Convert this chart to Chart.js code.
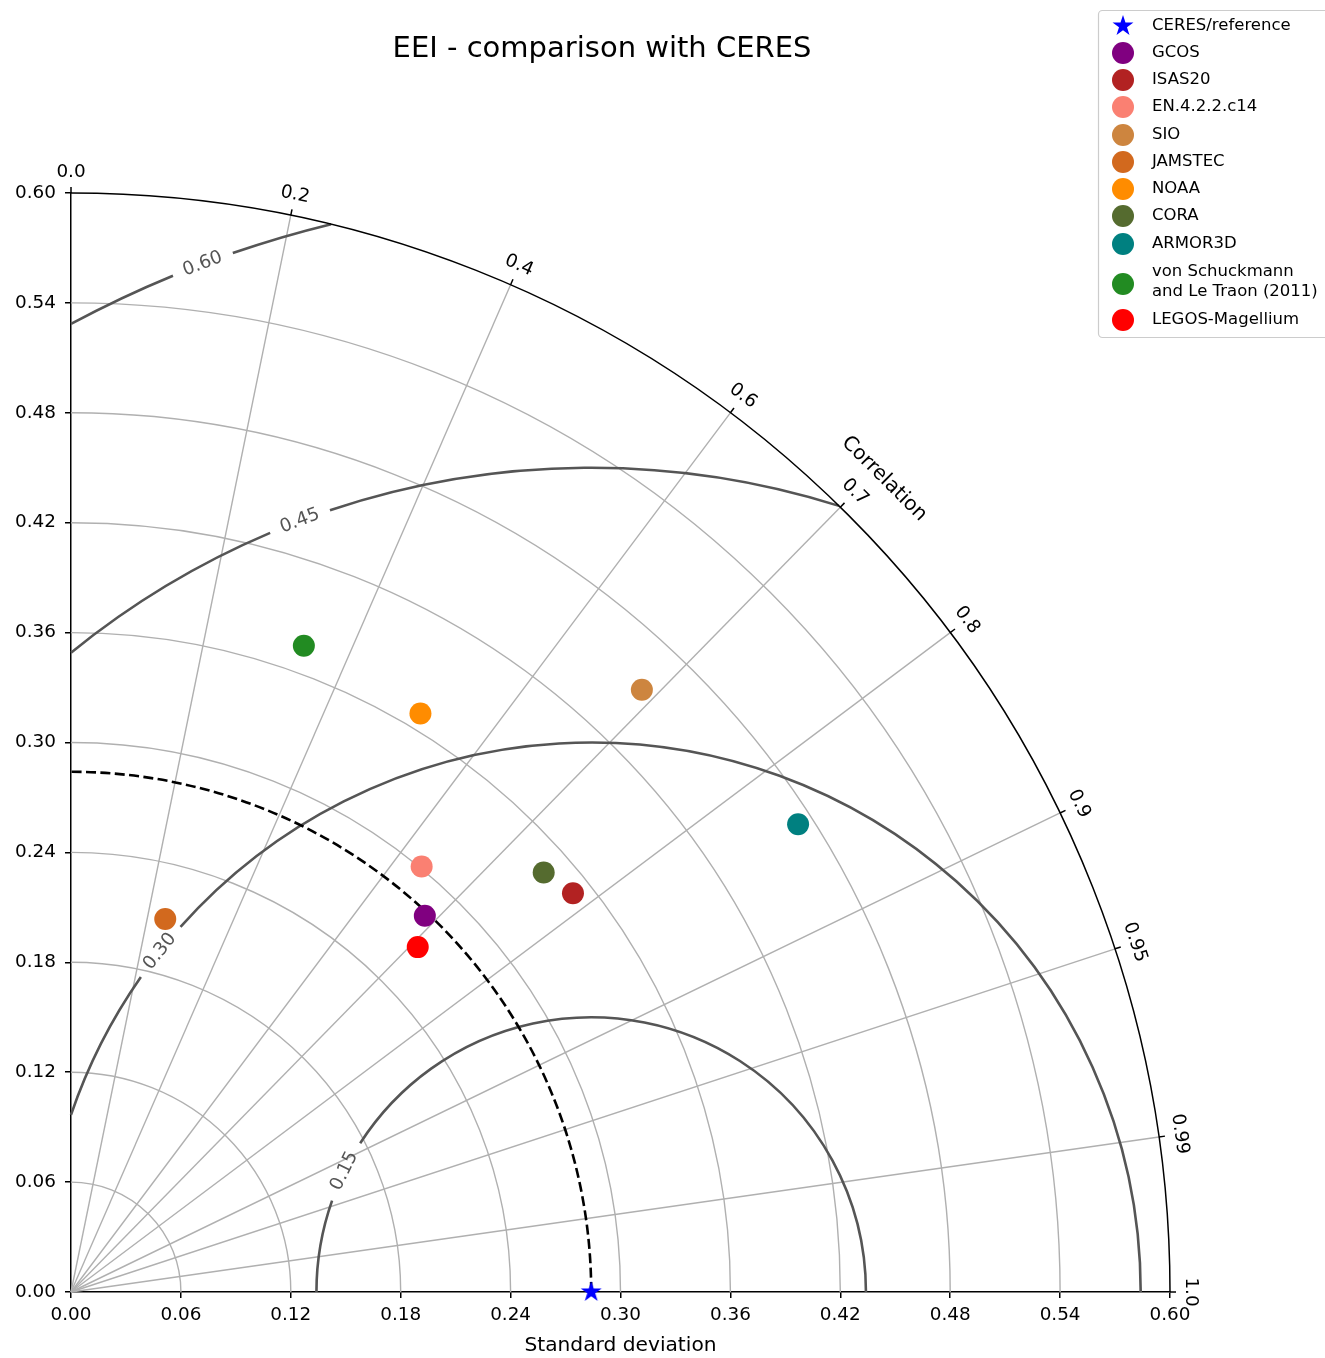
<!DOCTYPE html>
<html>
<head>
<meta charset="utf-8">
<title>EEI - comparison with CERES</title>
<script src="https://cdn.jsdelivr.net/npm/chart.js@4.4.0/dist/chart.umd.min.js"></script>
<style>
	html, body { margin: 0; padding: 0; background: #fff; }
	canvas { display: block; }
</style>
</head>
<body>
<canvas id="taylor" width="1325" height="1358"></canvas>
<script>
// Référence (CERES) : écart-type
const refName = 'CERES/reference';
const refStd = 0.284;

// Jeux de données comparés : écart-type et corrélation avec CERES
const modelNames = ['GCOS', 'ISAS20', 'EN.4.2.2.c14', 'SIO', 'JAMSTEC', 'NOAA', 'CORA', 'ARMOR3D',
	'von Schuckmann\nand Le Traon (2011)', 'LEGOS-Magellium'];
const modelStd = [0.282, 0.350, 0.301, 0.453, 0.210, 0.369, 0.345, 0.472, 0.375, 0.267];
const modelCorr = [0.685, 0.783, 0.636, 0.688, 0.245, 0.517, 0.748, 0.841, 0.339, 0.709];
const modelColors = ['purple', 'firebrick', 'salmon', 'peru', 'chocolate', 'darkorange',
	'darkolivegreen', 'teal', 'forestgreen', 'red'];

// Axes du diagramme
const stdMax = 0.6;
const stdTicks = [0, 0.06, 0.12, 0.18, 0.24, 0.30, 0.36, 0.42, 0.48, 0.54, 0.60];
const corrTicks = [0, 0.2, 0.4, 0.6, 0.7, 0.8, 0.9, 0.95, 0.99, 1];
const corrTickLabels = ['0.0', '0.2', '0.4', '0.6', '0.7', '0.8', '0.9', '0.95', '0.99', '1.0'];
const rmsLevels = [0.15, 0.30, 0.45, 0.60];

// Position des étiquettes des contours (angle autour de la référence, en degrés)
const rmsLabelAngles = [153.9, 141.7, 110.7, 110.7];

const FONT = '"DejaVu Sans", sans-serif';
Chart.defaults.font.family = FONT;

// Coordonnées cartésiennes à partir de (écart-type, corrélation)
function polar(std, corr) {
	const t = Math.acos(corr);
	return { x: std * Math.cos(t), y: std * Math.sin(t) };
}

// Étoile pleine pour la référence (comme le marqueur '*' de matplotlib)
function makeStar(r, color) {
	const c = document.createElement('canvas');
	const size = Math.ceil(r) * 2 + 2;
	c.width = size;
	c.height = size;
	const g = c.getContext('2d');
	g.translate(size / 2, size / 2);
	g.beginPath();
	for (let i = 0; i < 10; i++) {
		const rad = i % 2 === 0 ? r : r * 0.381966;
		const a = -Math.PI / 2 + i * Math.PI / 5;
		g.lineTo(rad * Math.cos(a), rad * Math.sin(a));
	}
	g.closePath();
	g.fillStyle = color;
	g.fill();
	return c;
}

const datasets = [{
	label: refName,
	data: [polar(refStd, 1)],
	pointStyle: makeStar(11, 'blue'),
	backgroundColor: 'blue',
	borderColor: 'blue',
	clip: false
}];

modelNames.forEach((name, i) => {
	datasets.push({
		label: name,
		data: [polar(modelStd[i], modelCorr[i])],
		backgroundColor: modelColors[i],
		borderColor: modelColors[i],
		borderWidth: 0,
		pointRadius: 11,
		pointHoverRadius: 11,
		clip: false
	});
});

// Grille polaire, contours RMS, arc de référence et axe des corrélations
const taylorGrid = {
	id: 'taylorGrid',
	beforeDatasetsDraw(chart) {
		const { ctx, scales: { x, y } } = chart;
		const ox = x.getPixelForValue(0);
		const oy = y.getPixelForValue(0);
		const ux = x.getPixelForValue(1) - ox;
		const uy = oy - y.getPixelForValue(1);
		const R = stdMax * ux;

		ctx.save();

		// cercles d'écart-type
		ctx.strokeStyle = '#b0b0b0';
		ctx.lineWidth = 1.4;
		stdTicks.forEach(s => {
			if (s <= 0 || s >= stdMax) return;
			ctx.beginPath();
			ctx.ellipse(ox, oy, s * ux, s * uy, 0, -Math.PI / 2, 0);
			ctx.stroke();
		});

		// rayons de corrélation
		corrTicks.forEach(c => {
			if (c <= 0 || c >= 1) return;
			const p = polar(stdMax, c);
			ctx.beginPath();
			ctx.moveTo(ox, oy);
			ctx.lineTo(x.getPixelForValue(p.x), y.getPixelForValue(p.y));
			ctx.stroke();
		});

		// contours RMS centrés sur la référence
		const cx = x.getPixelForValue(refStd);
		ctx.strokeStyle = '#555';
		ctx.fillStyle = '#555';
		ctx.lineWidth = 2.6;
		ctx.font = '18.4px ' + FONT;
		ctx.textAlign = 'center';
		ctx.textBaseline = 'middle';
		rmsLevels.forEach((rms, i) => {
			const cosMin = (stdMax * stdMax - refStd * refStd - rms * rms) / (2 * refStd * rms);
			const a0 = Math.acos(Math.min(1, cosMin));
			const a1 = Math.acos(Math.max(-1, -refStd / rms));
			const aL = rmsLabelAngles[i] * Math.PI / 180;
			const gap = 32 / (rms * ux);
			[[a0, aL - gap], [aL + gap, a1]].forEach(([p, q]) => {
				ctx.beginPath();
				ctx.ellipse(cx, oy, rms * ux, rms * uy, 0, -q, -p);
				ctx.stroke();
			});
			const lx = cx + rms * ux * Math.cos(aL);
			const ly = oy - rms * uy * Math.sin(aL);
			ctx.save();
			ctx.translate(lx, ly);
			ctx.rotate(Math.PI / 2 - aL);
			ctx.fillText(rms.toFixed(2), 0, 0);
			ctx.restore();
		});

		// arc de l'écart-type de référence (pointillés)
		ctx.strokeStyle = '#000';
		ctx.lineWidth = 2.6;
		ctx.setLineDash([10, 4.4]);
		ctx.beginPath();
		ctx.ellipse(ox, oy, refStd * ux, refStd * uy, 0, 0, -Math.PI / 2, true);
		ctx.stroke();
		ctx.setLineDash([]);

		// arc extérieur, graduations et étiquettes de corrélation
		ctx.lineWidth = 1.5;
		ctx.beginPath();
		ctx.ellipse(ox, oy, R, stdMax * uy, 0, -Math.PI / 2, 0);
		ctx.stroke();

		ctx.fillStyle = '#000';
		corrTicks.forEach((c, i) => {
			const t = Math.acos(c);
			const dx = Math.cos(t);
			const dy = -Math.sin(t);
			ctx.beginPath();
			ctx.moveTo(ox + R * dx, oy + R * dy);
			ctx.lineTo(ox + (R + 6) * dx, oy + (R + 6) * dy);
			ctx.stroke();
			ctx.save();
			ctx.translate(ox + (R + 21) * dx, oy + (R + 21) * dy);
			ctx.rotate(Math.PI / 2 - t);
			ctx.fillText(corrTickLabels[i], 0, 0);
			ctx.restore();
		});

		ctx.font = '20.2px ' + FONT;
		ctx.save();
		ctx.translate(ox + (R + 51) * Math.cos(Math.PI / 4), oy - (R + 51) * Math.sin(Math.PI / 4));
		ctx.rotate(Math.PI / 4);
		ctx.fillText('Correlation', 0, 0);
		ctx.restore();

		ctx.restore();
	}
};

// Titre de la figure
const titlePlugin = {
	id: 'figTitle',
	afterDraw(chart) {
		const ctx = chart.ctx;
		ctx.save();
		ctx.font = '29px ' + FONT;
		ctx.fillStyle = '#000';
		ctx.textAlign = 'center';
		ctx.textBaseline = 'alphabetic';
		ctx.fillText('EEI - comparison with CERES', 602, 57);
		ctx.restore();
	}
};

// Légende dans le coin haut droit (style matplotlib)
const legendPlugin = {
	id: 'legendBox',
	afterDraw(chart) {
		const ctx = chart.ctx;
		const rowsY = [26, 53, 80, 107, 135, 162, 189, 216, 244, 284, 320];
		ctx.save();
		ctx.fillStyle = 'rgba(255,255,255,0.8)';
		ctx.strokeStyle = '#cccccc';
		ctx.lineWidth = 1.2;
		ctx.beginPath();
		if (ctx.roundRect) ctx.roundRect(1098.5, 10.5, 260, 327, 4);
		else ctx.rect(1098.5, 10.5, 260, 327);
		ctx.fill();
		ctx.stroke();

		ctx.font = '16.5px ' + FONT;
		ctx.textAlign = 'left';
		ctx.textBaseline = 'middle';
		chart.data.datasets.forEach((ds, i) => {
			const yy = rowsY[i];
			if (ds.pointStyle instanceof HTMLCanvasElement) {
				const img = ds.pointStyle;
				ctx.drawImage(img, 1123 - img.width / 2, yy - img.height / 2);
			} else {
				ctx.fillStyle = ds.backgroundColor;
				ctx.beginPath();
				ctx.arc(1123, yy, 11, 0, Math.PI * 2);
				ctx.fill();
			}
			ctx.fillStyle = '#000';
			const lines = ds.label.split('\n');
			const shift = lines.length > 1 ? -2.5 : 0;
			lines.forEach((t, k) => {
				ctx.fillText(t, 1152, yy + shift + (k - (lines.length - 1) / 2) * 20.5);
			});
		});
		ctx.restore();
	}
};

new Chart(document.getElementById('taylor'), {
	type: 'scatter',
	data: { datasets },
	options: {
		responsive: false,
		animation: false,
		layout: { padding: { top: 193, right: 155, bottom: 0, left: 0 } },
		plugins: {
			legend: { display: false },
			tooltip: { enabled: false }
		},
		scales: {
			x: {
				type: 'linear',
				min: 0,
				max: stdMax,
				afterBuildTicks: s => { s.ticks = stdTicks.map(v => ({ value: v })); },
				afterFit: s => { s.height = 66; },
				grid: { drawOnChartArea: false, tickLength: 6, color: '#000', lineWidth: 1.5 },
				border: { color: '#000', width: 1.5 },
				ticks: {
					color: '#000', font: { size: 18.4 }, padding: 6,
					maxRotation: 0, autoSkip: false,
					callback: v => v.toFixed(2)
				},
				title: {
					display: true, text: 'Standard deviation', color: '#000',
					font: { size: 20.2 }, padding: { top: 0, bottom: 0 }
				}
			},
			y: {
				type: 'linear',
				min: 0,
				max: stdMax,
				afterBuildTicks: s => { s.ticks = stdTicks.map(v => ({ value: v })); },
				afterFit: s => { s.width = 71; },
				grid: { drawOnChartArea: false, tickLength: 6, color: '#000', lineWidth: 1.5 },
				border: { color: '#000', width: 1.5 },
				ticks: {
					color: '#000', font: { size: 18.4 }, padding: 9,
					autoSkip: false,
					callback: v => v.toFixed(2)
				}
			}
		}
	},
	plugins: [taylorGrid, titlePlugin, legendPlugin]
});
</script>
</body>
</html>
